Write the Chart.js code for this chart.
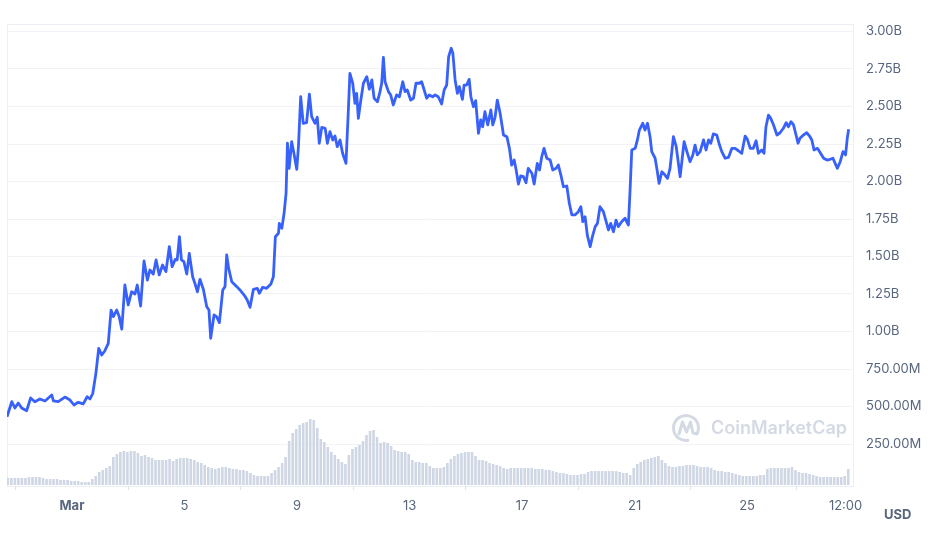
<!DOCTYPE html>
<html>
<head>
<meta charset="utf-8">
<script src="https://cdn.jsdelivr.net/npm/chart.js@4.4.1/dist/chart.umd.min.js"></script>
<style>
  body { margin: 0; background: #fff; }
  #wrap { width: 937px; height: 537px; }
</style>
</head>
<body>
<div id="wrap"><canvas id="myChart" width="937" height="537"></canvas></div>
<script>
// price (market cap), billions USD; time in days from Mar 1 00:00
var priceDays = [-2.31,-2.14,-2.03,-1.91,-1.79,-1.61,-1.47,-1.32,-1.14,-0.96,
  -0.72,-0.66,-0.49,-0.25,-0.07,0.07,0.22,0.40,0.54,0.64,
  0.74,0.85,0.95,1.06,1.17,1.29,1.39,1.47,1.59,1.68,
  1.77,1.88,2.00,2.12,2.24,2.32,2.44,2.56,2.68,2.77,
  2.89,2.99,3.10,3.22,3.34,3.46,3.56,3.67,3.74,3.82,
  3.89,3.98,4.08,4.17,4.29,4.37,4.46,4.55,4.67,4.79,
  4.87,4.93,5.05,5.14,5.24,5.36,5.44,5.50,5.57,5.68,
  5.86,5.97,6.12,6.23,6.33,6.45,6.59,6.66,6.78,6.92,
  7.07,7.16,7.23,7.34,7.37,7.46,7.54,7.61,7.66,7.72,
  7.81,7.89,7.99,8.05,8.13,8.22,8.34,8.44,8.52,8.64,
  8.72,8.79,8.88,9.00,9.08,9.17,9.27,9.35,9.43,9.53,
  9.62,9.74,9.82,9.88,9.98,10.06,10.12,10.18,10.26,10.36,
  10.48,10.57,10.66,10.74,10.86,10.95,11.01,11.07,11.13,11.25,
  11.33,11.42,11.54,11.64,11.76,11.84,11.92,12.04,12.14,12.23,
  12.35,12.43,12.52,12.61,12.70,12.82,12.91,13.02,13.14,13.23,
  13.32,13.39,13.48,13.54,13.62,13.70,13.77,13.88,13.94,14.03,
  14.12,14.18,14.27,14.35,14.45,14.53,14.60,14.68,14.78,14.89,
  14.96,15.04,15.12,15.22,15.34,15.46,15.55,15.63,15.72,15.79,
  15.87,15.95,16.05,16.14,16.22,16.35,16.43,16.54,16.62,16.70,
  16.78,16.88,17.00,17.09,17.21,17.29,17.38,17.47,17.59,17.68,
  17.77,17.88,18.00,18.09,18.16,18.24,18.32,18.42,18.50,18.60,
  18.68,18.77,18.89,18.99,19.07,19.15,19.25,19.34,19.42,19.54,
  19.66,19.78,19.84,19.90,20.02,20.10,20.17,20.29,20.37,20.46,
  20.55,20.61,20.73,20.81,20.87,20.97,21.08,21.17,21.26,21.38,
  21.48,21.62,21.76,21.86,21.97,22.07,22.15,22.23,22.33,22.45,
  22.54,22.63,22.71,22.80,22.92,23.02,23.10,23.22,23.34,23.46,
  23.57,23.69,23.81,23.93,24.01,24.11,24.22,24.32,24.40,24.52,
  24.60,24.67,24.76,24.84,24.94,25.06,25.17,25.29,25.39,25.47,
  25.56,25.65,25.74,25.81,25.88,26.00,26.12,26.22,26.30,26.38,
  26.50,26.60,26.72,26.84,26.95,27.05,27.13,27.21,27.31,27.41,
  27.50,27.56,27.61];

var priceValues = [0.432,0.532,0.490,0.523,0.490,0.472,0.557,0.532,0.550,0.537,
  0.577,0.537,0.532,0.563,0.543,0.510,0.528,0.517,0.565,0.550,
  0.588,0.721,0.888,0.843,0.872,0.921,1.143,1.099,1.143,1.099,
  1.015,1.310,1.177,1.265,1.250,1.310,1.170,1.470,1.343,1.410,
  1.383,1.477,1.377,1.443,1.399,1.565,1.432,1.481,1.477,1.632,
  1.477,1.465,1.383,1.521,1.365,1.321,1.265,1.348,1.281,1.165,
  1.143,0.955,1.110,1.099,1.059,1.277,1.299,1.510,1.421,1.332,
  1.299,1.277,1.243,1.210,1.161,1.281,1.288,1.255,1.295,1.288,
  1.317,1.365,1.632,1.655,1.721,1.688,1.788,1.921,2.255,2.088,
  2.265,2.188,2.081,2.232,2.565,2.388,2.392,2.583,2.432,2.388,
  2.428,2.255,2.361,2.355,2.255,2.332,2.277,2.303,2.232,2.277,
  2.188,2.121,2.455,2.721,2.655,2.521,2.588,2.421,2.532,2.655,
  2.699,2.615,2.677,2.555,2.532,2.599,2.655,2.828,2.665,2.599,
  2.577,2.510,2.577,2.565,2.665,2.599,2.610,2.543,2.555,2.655,
  2.655,2.665,2.610,2.555,2.577,2.565,2.577,2.565,2.517,2.610,
  2.643,2.832,2.888,2.855,2.677,2.588,2.632,2.548,2.643,2.643,
  2.681,2.565,2.499,2.539,2.321,2.410,2.365,2.465,2.377,2.477,
  2.377,2.428,2.543,2.455,2.310,2.299,2.221,2.110,2.143,2.077,
  1.983,2.037,2.032,1.992,2.088,2.055,1.983,2.121,2.077,2.165,
  2.221,2.155,2.143,2.077,2.088,2.110,2.043,1.965,1.970,1.855,
  1.777,1.777,1.799,1.832,1.732,1.765,1.643,1.565,1.632,1.699,
  1.721,1.832,1.799,1.732,1.677,1.721,1.665,1.743,1.699,1.732,
  1.755,1.710,1.943,2.210,2.221,2.277,2.343,2.388,2.343,2.388,
  2.299,2.199,2.155,2.065,1.988,2.065,2.043,2.021,2.088,2.299,
  2.232,2.032,2.265,2.199,2.132,2.177,2.243,2.177,2.199,2.277,
  2.210,2.277,2.255,2.317,2.310,2.243,2.199,2.155,2.161,2.221,
  2.221,2.205,2.188,2.303,2.281,2.221,2.221,2.272,2.188,2.210,
  2.188,2.365,2.443,2.421,2.377,2.310,2.325,2.355,2.392,2.365,
  2.399,2.377,2.310,2.255,2.288,2.310,2.325,2.303,2.277,2.210,
  2.221,2.192,2.155,2.143,2.148,2.155,2.121,2.088,2.132,2.199,
  2.177,2.288,2.348];

// volume bars, one every 3 hours, millions USD
var volStart = -2.28;
var volStep = 0.125;
var volumeValues = [70,70,70,70,70,70,80,80,80,80,
  70,60,60,60,60,50,50,50,40,40,
  40,30,30,30,60,90,130,150,170,190,
  280,310,330,340,330,340,340,320,290,300,
  280,270,250,250,250,250,260,240,260,270,
  270,270,260,250,230,220,200,180,170,160,
  170,180,180,170,160,160,150,150,140,120,
  100,90,90,90,90,120,150,180,220,280,
  440,520,560,600,620,630,660,650,570,460,
  430,380,330,300,260,230,210,300,360,380,
  400,440,500,540,550,480,420,430,420,390,
  350,340,330,330,310,250,230,230,220,220,
  190,170,170,170,180,220,260,290,310,320,
  330,330,330,290,250,250,240,220,210,200,
  190,170,160,170,170,170,170,170,170,170,
  160,160,160,150,150,140,130,120,120,110,
  100,100,100,110,110,130,140,140,140,140,
  140,140,140,140,130,120,120,100,170,210,
  230,250,260,270,280,290,250,220,190,180,
  180,190,190,200,200,200,190,180,180,180,
  170,150,140,140,130,130,120,110,100,90,
  90,90,90,90,100,100,160,170,170,170,
  170,170,170,180,150,130,120,120,110,100,
  90,80,80,80,80,80,80,80,90,160];

var xTickValues = [0, 4, 8, 12, 16, 20, 24, 27.5];
var xTickLabels = ["Mar", "5", "9", "13", "17", "21", "25", "12:00"];
var yTickValues = [0.25, 0.5, 0.75, 1, 1.25, 1.5, 1.75, 2, 2.25, 2.5, 2.75, 3];
var yTickLabels = ["250.00M", "500.00M", "750.00M", "1.00B", "1.25B", "1.50B",
  "1.75B", "2.00B", "2.25B", "2.50B", "2.75B", "3.00B"];

var linePoints = priceDays.map(function (d, i) { return { x: d, y: priceValues[i] }; });
var volPoints = volumeValues.map(function (v, i) { return { x: volStart + i * volStep, y: v }; });

var extras = {
  id: "extras",
  beforeDraw: function (chart) {
    var ctx = chart.ctx, a = chart.chartArea;
    ctx.save();
    ctx.strokeStyle = "#eceff3";
    ctx.lineWidth = 1;
    ctx.strokeRect(a.left + 0.5, a.top + 0.5, a.right - a.left - 1, a.bottom - a.top);
    ctx.restore();
  },
  beforeDatasetsDraw: function (chart) {
    // CoinMarketCap watermark
    var ctx = chart.ctx;
    ctx.save();
    ctx.strokeStyle = "#d4dae4";
    ctx.fillStyle = "#d4dae4";
    ctx.lineWidth = 3;
    ctx.lineCap = "round";
    ctx.lineJoin = "round";
    ctx.beginPath();
    ctx.arc(686, 428, 12.5, 0.45 * Math.PI, 2.12 * Math.PI);
    ctx.stroke();
    ctx.beginPath();
    ctx.moveTo(679, 434);
    ctx.lineTo(682.5, 422);
    ctx.lineTo(686.5, 432);
    ctx.lineTo(690.5, 422);
    ctx.lineTo(693, 433);
    ctx.lineTo(697, 434);
    ctx.stroke();
    ctx.font = "600 18px Inter";
    ctx.textBaseline = "middle";
    ctx.fillText("CoinMarketCap", 711, 429);
    ctx.restore();
  },
  afterDraw: function (chart) {
    var ctx = chart.ctx;
    ctx.save();
    ctx.fillStyle = "#58667e";
    ctx.font = "bold 13px Inter";
    ctx.textBaseline = "middle";
    ctx.fillText("USD", 884, 515);
    ctx.restore();
  }
};

new Chart("myChart", {
  type: "bar",
  data: {
    datasets: [{
      type: "line",
      data: linePoints,
      borderColor: "#3861fb",
      borderWidth: 2.8,
      pointRadius: 0,
      tension: 0,
      borderJoinStyle: "round",
      yAxisID: "y",
      order: 0
    }, {
      type: "bar",
      data: volPoints,
      backgroundColor: "#cfd6e4",
      barPercentage: 0.74,
      categoryPercentage: 1,
      yAxisID: "yv",
      order: 1
    }]
  },
  options: {
    responsive: false,
    animation: false,
    layout: { padding: { left: 7, top: 24, right: 0, bottom: 0 } },
    plugins: { legend: { display: false }, tooltip: { enabled: false } },
    scales: {
      x: {
        type: "linear",
        min: -2.31,
        max: 27.8,
        offset: false,
        afterBuildTicks: function (scale) {
          scale.ticks = xTickValues.map(function (v) { return { value: v }; });
        },
        afterFit: function (scale) { scale.height = 51; },
        grid: { drawOnChartArea: false, drawTicks: true, tickLength: 4, color: "#dfe3ea" },
        border: { display: false },
        ticks: {
          autoSkip: false,
          maxRotation: 0,
          padding: 8,
          color: "#58667e",
          font: function (c) {
            return { family: "Inter", size: 13, weight: c.tick && c.tick.value === 0 ? "bold" : "normal" };
          },
          callback: function (v, i) { return xTickLabels[i]; }
        }
      },
      y: {
        position: "right",
        min: -0.03,
        max: 3.05,
        afterBuildTicks: function (scale) {
          scale.ticks = yTickValues.map(function (v) { return { value: v }; });
        },
        afterFit: function (scale) { scale.width = 83; },
        grid: { color: "#f1f3f6", drawTicks: false },
        border: { display: false },
        ticks: {
          padding: 12,
          color: "#58667e",
          font: { family: "Inter", size: 13 },
          callback: function (v, i) { return yTickLabels[i]; }
        }
      },
      yv: {
        display: false,
        min: -10,
        max: 4610
      }
    }
  },
  plugins: [extras]
});
</script>
</body>
</html>
